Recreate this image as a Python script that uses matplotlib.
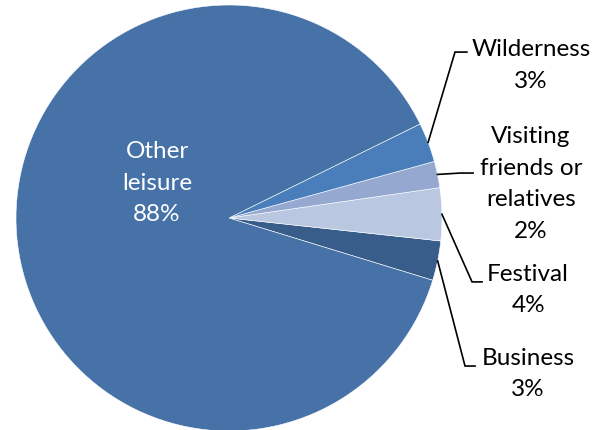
import matplotlib.pyplot as plt
import numpy as np

labels = ['Business', 'Festival', 'Visiting\nfriends or\nrelatives', 'Wilderness', 'Other\nleisure']
values = [3, 4, 2, 3, 88]
colors = ['#385d8a', '#b9c7e1', '#95a9d0', '#4a7ebb', '#4672a8']

# label block centres and leader elbows (data units, pie radius = 1)
text_pos = [(1.404, -0.728), (1.404, -0.333), (1.418, 0.164), (1.418, 0.72), (-0.338, 0.169)]
elbow = [(1.108, -0.695), (1.141, -0.300), (1.085, 0.211), (1.061, 0.779), None]
line_end = [1.155, 1.188, 1.146, 1.117, None]

plt.rcParams['font.family'] = ['Lato', 'DejaVu Sans']

fig = plt.figure(figsize=(6.05, 4.31), dpi=100)
ax = fig.add_axes([16 / 605, (431 - 219 - 213) / 431, 426 / 605, 426 / 431])

wedges, _ = ax.pie(values, colors=colors, startangle=-17, counterclock=True,
                   radius=1, wedgeprops=dict(edgecolor='white', linewidth=0.4))
ax.set_xlim(-1, 1)
ax.set_ylim(-1, 1)
ax.set_aspect('equal')
ax.axis('off')

total = sum(values)
for i, w in enumerate(wedges):
    pct = f'{round(values[i] / total * 100)}%'
    txt = labels[i] + '\n' + pct
    if elbow[i] is None:
        ax.text(*text_pos[i], txt, ha='center', va='center', color='white',
                fontsize=17.5, linespacing=1.62)
        continue
    ang = np.deg2rad((w.theta1 + w.theta2) / 2)
    x0, y0 = np.cos(ang), np.sin(ang)
    ex, ey = elbow[i]
    ax.plot([x0, ex, line_end[i]], [y0, ey, ey], color='black', lw=1.2,
            clip_on=False, solid_joinstyle='miter')
    ax.text(*text_pos[i], txt, ha='center', va='center', color='black',
            fontsize=17.5, linespacing=1.62)

fig.savefig('out.png', dpi=100)
